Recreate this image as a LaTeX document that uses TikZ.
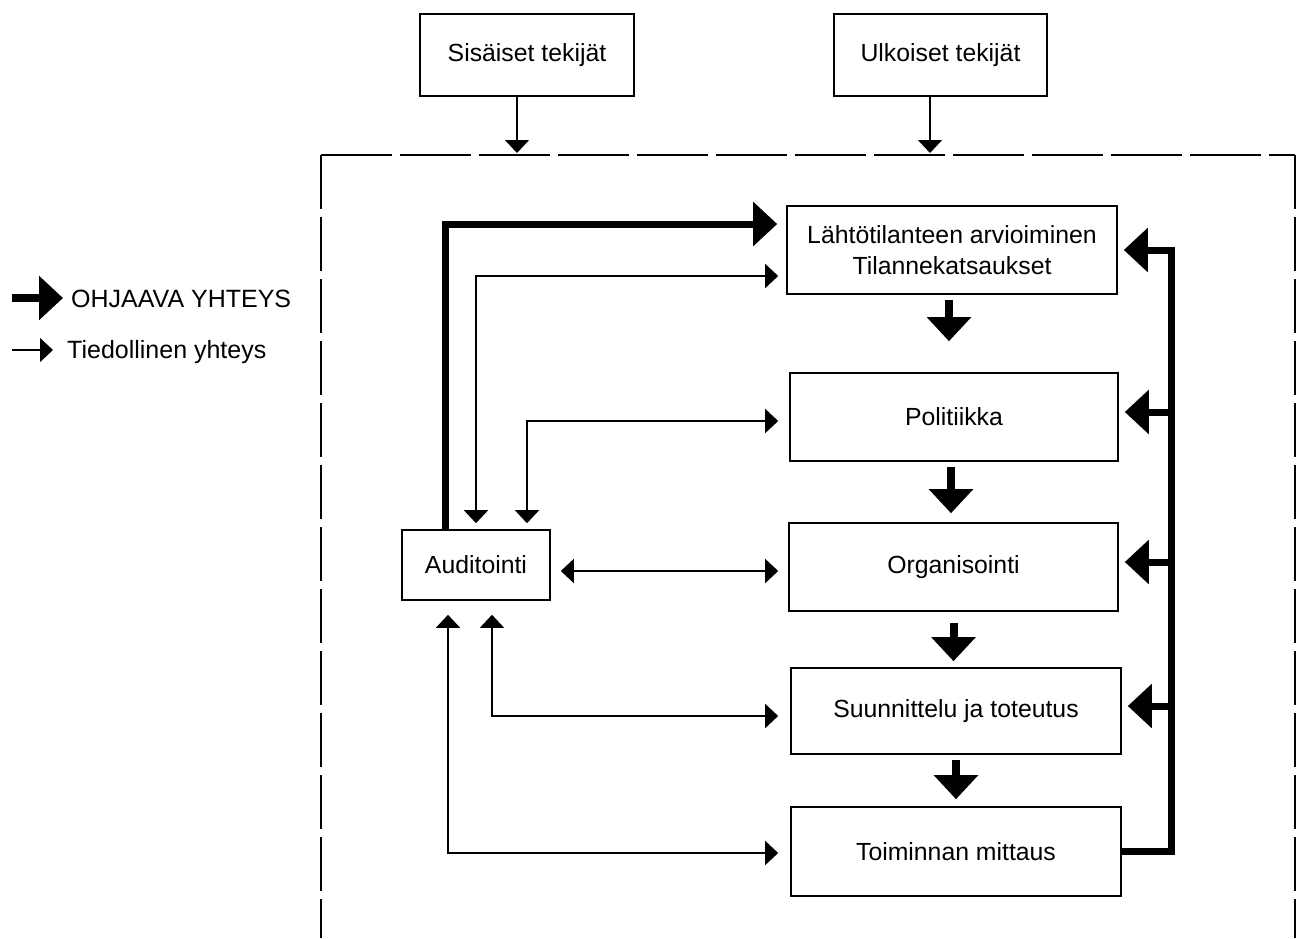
\documentclass[tikz,border=0pt]{standalone}
\usepackage{fontspec}
\setmainfont{Liberation Sans}
\usetikzlibrary{arrows.meta}

\tikzset{
    box/.style={draw, line width=1.6pt, inner sep=0pt, align=center,
        font=\fontsize{24.8}{31}\selectfont},
    txt/.style={inner sep=0pt, font=\fontsize{25}{31}\selectfont},
    info/.style={line width=1.5pt, -{Triangle[length=13pt, width=24pt]}},
    infoboth/.style={line width=1.5pt,
        {Triangle[length=13pt, width=24pt]}-{Triangle[length=13pt, width=24pt]}},
    ctrl/.style={line width=7pt, -{Triangle[length=24pt, width=43pt]}},
}

\begin{document}
\begin{tikzpicture}[x=1pt, y=-1pt]
        \useasboundingbox (0,0) rectangle (1296,938);

        % Legend
        \coordinate (ctrlstart) at (12,298);
        \node[txt, anchor=base west] (ctrllabel) at (71,307) {OHJAAVA YHTEYS};
        \draw[ctrl, line width=8pt, shorten >=8pt] (ctrlstart) -- (ctrlstart -| ctrllabel.west);
        \coordinate (infostart) at (12,350);
        \node[txt, anchor=base west] (infolabel) at (67,358) {Tiedollinen yhteys};
        \draw[info, shorten >=14pt] (infostart) -- (infostart -| infolabel.west);

        % Outside factors
        \node[box, minimum width=214pt, minimum height=82pt] (sis) at (527,55) {Sisäiset tekijät};
        \node[box, minimum width=213pt, minimum height=82pt] (ulk) at (940.5,55) {Ulkoiset tekijät};

        % Dashed frame (open at the bottom)
        \draw[line width=1.8pt, dash pattern=on 71pt off 8pt] (321,155) -- (1295,155);
        \draw[line width=1.8pt, dash pattern=on 54pt off 8pt] (321,155) -- (321,938);
        \draw[line width=1.8pt, dash pattern=on 54pt off 8pt] (1295,155) -- (1295,938);

        \coordinate (sisin) at (517,153);
        \coordinate (ulkin) at (930,153);
        \draw[info] (sis.south -| sisin) -- (sisin);
        \draw[info] (ulk.south -| ulkin) -- (ulkin);

        % Process boxes
        \node[box, minimum width=330pt, minimum height=88pt] (lahto) at (952,250) {Lähtötilanteen arvioiminen\\Tilannekatsaukset};
        \node[box, minimum width=328pt, minimum height=88pt] (pol) at (954,417) {Politiikka};
        \node[box, minimum width=329pt, minimum height=88pt] (org) at (953.5,567) {Organisointi};
        \node[box, minimum width=330pt, minimum height=86pt] (suun) at (956,711) {Suunnittelu ja toteutus};
        \node[box, minimum width=330pt, minimum height=89pt] (toim) at (956,851.5) {Toiminnan mittaus};
        \node[box, minimum width=148pt, minimum height=70pt] (aud) at (476,565) {Auditointi};

        % Steps down the chain
        \draw[ctrl, line width=8pt, shorten <=5pt, shorten >=31pt] ([xshift=-3pt]lahto.south) -- ([xshift=-3pt]lahto.south |- pol.north);
        \draw[ctrl, line width=8pt, shorten <=5pt, shorten >=9pt] ([xshift=-3pt]pol.south) -- ([xshift=-3pt]pol.south |- org.north);
        \draw[ctrl, line width=8pt, shorten <=11pt, shorten >=6pt] (org.south) -- (org.south |- suun.north);
        \draw[ctrl, line width=8pt, shorten <=5pt, shorten >=7pt] (suun.south) -- (suun.south |- toim.north);

        % Feedback from the measurement
        \coordinate (fb) at (1171,250);
        \draw[ctrl, shorten >=6pt] (toim.east) -| (fb) -- (lahto.east);
        \draw[ctrl, shorten >=6pt] ([yshift=5pt]fb |- pol.east) -- ([yshift=5pt]pol.east);
        \draw[ctrl, shorten >=6pt] ([yshift=5pt]fb |- org.east) -- ([yshift=5pt]org.east);
        \draw[ctrl, shorten >=6pt] ([yshift=5pt]fb |- suun.east) -- ([yshift=5pt]suun.east);

        % Audit links
        \draw[ctrl, shorten >=9pt] ([xshift=-31pt]aud.north) |- ([yshift=26pt]lahto.west);
        \draw[infoboth, shorten <=8pt, shorten >=6pt] ([yshift=-26pt]lahto.west) -| (aud.north);
        \draw[infoboth, shorten <=11pt, shorten >=6pt] ([yshift=-4pt]pol.west) -| ([xshift=51pt]aud.north);
        \draw[infoboth, shorten <=10pt, shorten >=10pt] ([yshift=-6pt]aud.east) -- ([yshift=-6pt]aud.east -| org.west);
        \draw[infoboth, shorten <=12pt, shorten >=14pt] ([yshift=-5pt]suun.west) -| ([xshift=16pt]aud.south);
        \draw[infoboth, shorten <=12pt, shorten >=14pt] ([yshift=-1.5pt]toim.west) -| ([xshift=-28pt]aud.south);

        \end{tikzpicture}
\end{document}
